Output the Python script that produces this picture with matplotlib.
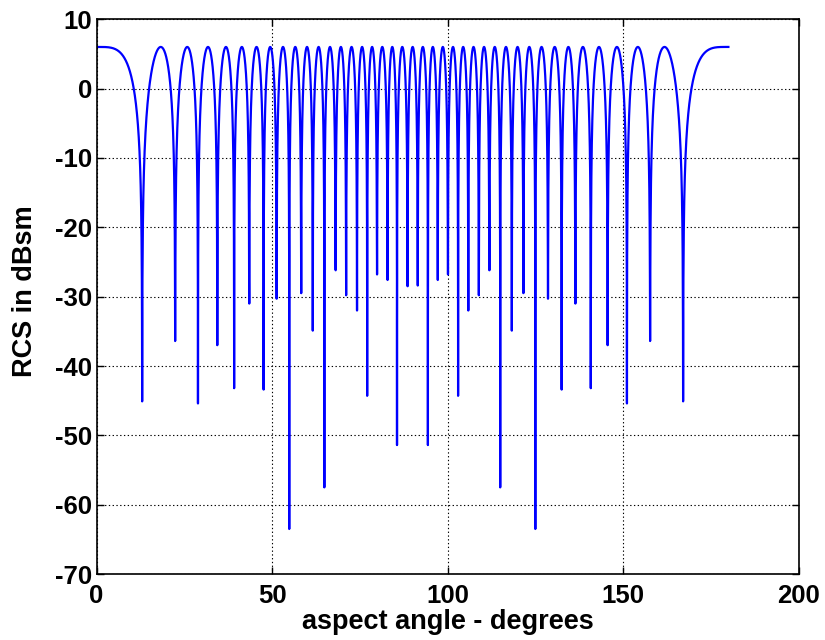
import numpy as np
import matplotlib
matplotlib.use("Agg")
import matplotlib.pyplot as plt

# null positions (degrees) and null depths (dBsm)
null_angle = [13.0, 22.4, 28.9, 34.4, 39.2, 43.5, 47.6, 51.3, 54.9, 58.3,
              61.6, 64.9, 68.1, 71.1, 74.2, 77.1, 79.9, 82.9, 85.6, 88.6,
              91.5, 94.4, 97.2, 100.1, 103.0, 105.9, 108.9, 111.9, 115.0, 118.3,
              121.6, 125.0, 128.6, 132.5, 136.4, 140.8, 145.6, 151.1, 157.7, 167.1]
null_depth = [-45.1, -36.4, -45.4, -37.0, -43.2, -31.0, -43.4, -30.3, -63.5, -29.5,
              -34.9, -57.5, -26.2, -29.8, -32.0, -44.3, -26.8, -27.6, -51.4, -28.5,
              -28.4, -51.4, -27.6, -26.8, -44.3, -32.0, -29.8, -26.2, -57.5, -34.9,
              -29.5, -63.5, -30.3, -43.4, -31.0, -43.2, -37.0, -45.4, -36.4, -45.1]
peak_level = 6.0
angle_start, angle_end = 0.0, 180.0

# build the trace lobe by lobe between the nulls
bounds = [angle_start] + null_angle + [angle_end]
xs, ys = [], []
n = len(bounds) - 1
for i in range(n):
    a, b = bounds[i], bounds[i + 1]
    u = np.linspace(0, 1, 300)
    ca, cb = np.cos(np.radians(a)), np.cos(np.radians(b))
    th = np.degrees(np.arccos(ca + (cb - ca) * u))
    if i == 0:
        mag = np.abs(np.cos(np.pi / 2 * u))
    elif i == n - 1:
        mag = np.abs(np.sin(np.pi / 2 * u))
    else:
        mag = np.abs(np.sin(np.pi * u))
    val = peak_level + 20 * np.log10(np.maximum(mag, 1e-9))
    left_d = null_depth[i - 1] if i > 0 else -999
    right_d = null_depth[i] if i < n - 1 else -999
    val = np.where(u < 0.5, np.maximum(val, left_d), np.maximum(val, right_d))
    if i > 0:
        th, val = th[1:], val[1:]
    xs.append(th)
    ys.append(val)
x = np.concatenate(xs)
y = np.concatenate(ys)

plt.rcParams['font.family'] = ['Liberation Sans', 'DejaVu Sans']
plt.rcParams['font.weight'] = 'bold'
plt.rcParams['axes.unicode_minus'] = False

fig = plt.figure(figsize=(8.25, 6.4), dpi=100)
ax = fig.add_axes([0.117, 0.103, 0.851, 0.867])
ax.plot(x, y, color='#0000ff', lw=1.6)

ax.set_xlim(0, 200)
ax.set_ylim(-70, 10)
ax.set_xticks(np.arange(0, 201, 50))
ax.set_yticks(np.arange(-70, 11, 10))
ax.grid(True, color='black', linestyle=(0, (1.2, 2.2)), linewidth=0.8)
ax.tick_params(direction='in', top=True, right=True, length=5, width=1,
               labelsize=18.5)
ax.tick_params(axis='x', pad=7)
ax.tick_params(axis='y', pad=3)
for s in ax.spines.values():
    s.set_linewidth(1.2)

ax.set_xlabel('aspect angle - degrees', fontsize=19.5, fontweight='bold')
ax.set_ylabel('RCS in dBsm', fontsize=19.5, fontweight='bold')
ax.xaxis.set_label_coords(0.5, -0.063)
ax.yaxis.set_label_coords(-0.083, 0.51)

plt.savefig('out.png', dpi=100)
